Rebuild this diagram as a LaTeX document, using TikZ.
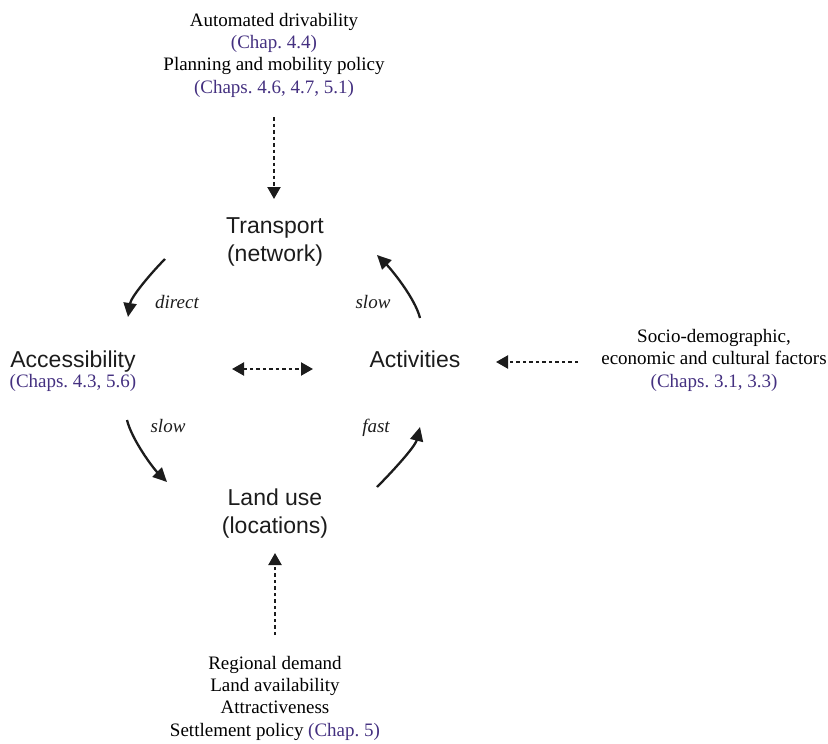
\documentclass[tikz,border=0pt]{standalone}
\usepackage{fontspec}
\setmainfont{Liberation Serif}
\newfontfamily\conceptfont{Liberation Sans}
\usetikzlibrary{arrows.meta}
\definecolor{chapref}{RGB}{68,48,128}
\definecolor{ink}{RGB}{28,28,28}

\begin{document}
\frenchspacing
\begin{tikzpicture}[x=1pt,y=-1pt,
  % multi-line nodes are placed by the baseline of their last line
  concept/.style={font=\conceptfont\fontsize{23}{28}\selectfont, text=ink,
                  align=center, inner sep=0pt, anchor=base},
  factors/.style={font=\fontsize{19}{22.3}\selectfont, align=center,
                  inner sep=0pt, anchor=base},
  speed/.style={font=\itshape\fontsize{19}{22}\selectfont, text=ink,
                inner sep=0pt, anchor=base},
  flow/.style={line width=2.3pt, draw=ink, -{Triangle[length=14pt,width=13pt]}},
  influence/.style={line width=2.2pt, draw=ink, dash pattern=on 3.5pt off 3pt,
                    -{Triangle[length=12pt,width=13pt]}},
  mutual/.style={influence, {Triangle[length=12pt,width=13pt]}-{Triangle[length=12pt,width=13pt]}},
]
\useasboundingbox (0,0) rectangle (828,744);

% the four elements of the land-use / transport feedback cycle
\node[concept] (transport) at (275,261) {Transport\\(network)};
\node[concept] (access) at (73,367) {Accessibility};
\node[factors, text=chapref] (accessref) at (73,387) {(Chaps. 4.3, 5.6)};
\node[concept] (activities) at (415,367) {Activities};
\node[concept] (landuse) at (275,533) {Land use\\(locations)};

% external influences
\node[factors] (policy) at (274,93)
  {Automated drivability\\ \textcolor{chapref}{(Chap. 4.4)}\\
   Planning and mobility policy\\ \textcolor{chapref}{(Chaps. 4.6, 4.7, 5.1)}};
\node[factors] (socio) at (714,387)
  {Socio-demographic,\\ economic and cultural factors\\
   \textcolor{chapref}{(Chaps. 3.1, 3.3)}};
\node[factors] (regional) at (275,736)
  {Regional demand\\ Land availability\\ Attractiveness\\
   Settlement policy \textcolor{chapref}{(Chap. 5)}};

% end points of the connectors
\coordinate (policy-out)     at (274,117);
\coordinate (transport-in)   at (274,199);
\coordinate (socio-out)      at (578,362);
\coordinate (activities-in)  at (496,362);
\coordinate (regional-out)   at (275,635);
\coordinate (landuse-in)     at (275,553);
\coordinate (access-link)    at (232,369);
\coordinate (activities-link) at (313,369);

\coordinate (transport-out)  at (165,259);
\coordinate (access-in)      at (128,317);
\coordinate (access-out)     at (127,420);
\coordinate (landuse-in2)    at (167,482);
\coordinate (landuse-out)    at (377,487);
\coordinate (activities-in2) at (420,427);
\coordinate (activities-out) at (420,318);
\coordinate (transport-in2)  at (377,255);

% feedback cycle
\draw[flow] (transport-out) .. controls (151,273) and (131,297) .. (access-in);
\draw[flow] (access-out) .. controls (132,440) and (153,468) .. (landuse-in2);
\draw[flow] (landuse-out) .. controls (391,473) and (415,447) .. (activities-in2);
\draw[flow] (activities-out) .. controls (415,298) and (391,269) .. (transport-in2);

\node[speed] (lbl-direct) at (177,308) {direct};
\node[speed] (lbl-slow1)  at (373,308) {slow};
\node[speed] (lbl-slow2)  at (168,432) {slow};
\node[speed] (lbl-fast)   at (376,432) {fast};

% external influences and the accessibility–activities link
\draw[influence] (policy-out) -- (transport-in);
\draw[influence] (socio-out) -- (activities-in);
\draw[influence] (regional-out) -- (landuse-in);
\draw[mutual] (access-link) -- (activities-link);
\end{tikzpicture}
\end{document}
